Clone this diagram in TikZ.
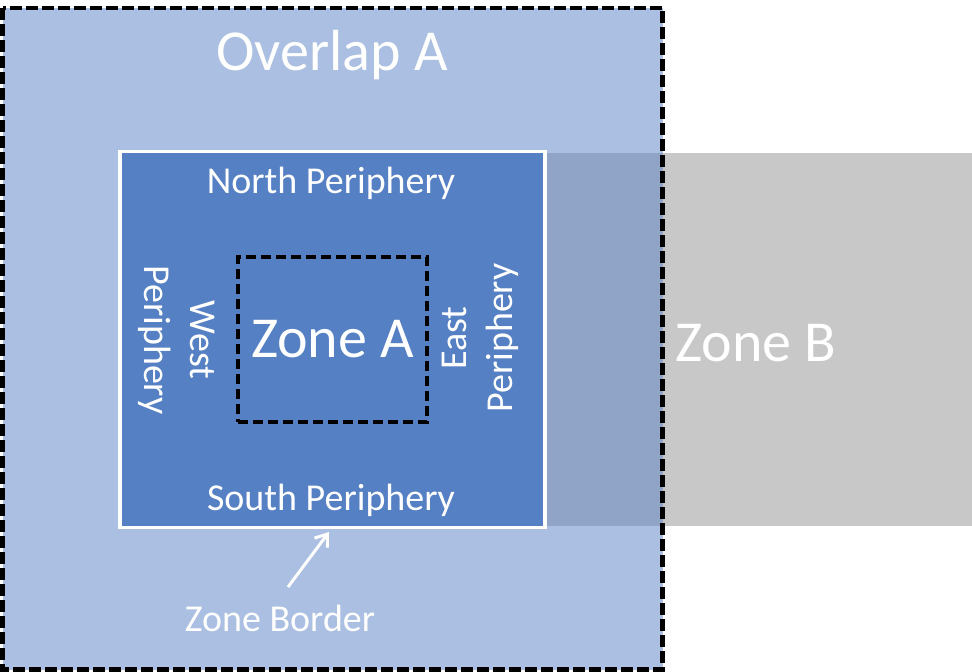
\documentclass[tikz,border=0pt]{standalone}
\usepackage{fontspec}
\setmainfont{Carlito}
\usetikzlibrary{arrows.meta}

\definecolor{overlapblue}{HTML}{AABFE1}
\definecolor{zoneblue}{HTML}{5580C4}
\definecolor{zonegray}{HTML}{C8C8C8}
\definecolor{mixgray}{HTML}{8FA4C6}

\begin{document}
\begin{tikzpicture}[x=1pt, y=-1pt,
	bigtxt/.style={text=white, font=\fontsize{58}{62}\selectfont},
	smalltxt/.style={text=white, font=\fontsize{38}{46}\selectfont, align=center}]
	\useasboundingbox (0,0) rectangle (972,672);
	% zone B and the overlap area
	\fill[zonegray] (545,152.7) rectangle (972,525.7);
	\fill[overlapblue] (2.5,8) rectangle (662.5,669.5);
	\fill[mixgray] (545,152.7) rectangle (662.5,525.7);
	\draw[line width=4.3pt, dash pattern=on 12pt off 4pt] (2.5,8) rectangle (662.5,669.5);
	% zone A with its periphery
	\node[draw=white, line width=3.3pt, fill=zoneblue, minimum width=425pt, minimum height=376.2pt] (border) at (332.5,339.6) {};
	\node[draw=black, line width=4pt, dash pattern=on 10pt off 5pt, minimum width=189pt, minimum height=165pt, bigtxt] (zoneA) at (332.5,339.5) {Zone A};
	\node[bigtxt] (overlap) at (332,55) {Overlap A};
	\node[bigtxt] (zoneB) at (756,343) {Zone B};
	\node[smalltxt] (north) at (331,183) {North Periphery};
	\node[smalltxt] (south) at (331,500) {South Periphery};
	\node[smalltxt, rotate=-90] (west) at (177,340) {West\\Periphery};
	\node[smalltxt, rotate=90] (east) at (480,338) {East\\Periphery};
	\node[smalltxt] (brdlabel) at (280,618) {Zone Border};
	\coordinate (tail) at (288,587);
	\coordinate (tip) at (329,532);
	\draw[white, line width=3pt, -{Straight Barb[length=11pt, width=16pt]}] (tail) -- (tip);
\end{tikzpicture}
\end{document}
